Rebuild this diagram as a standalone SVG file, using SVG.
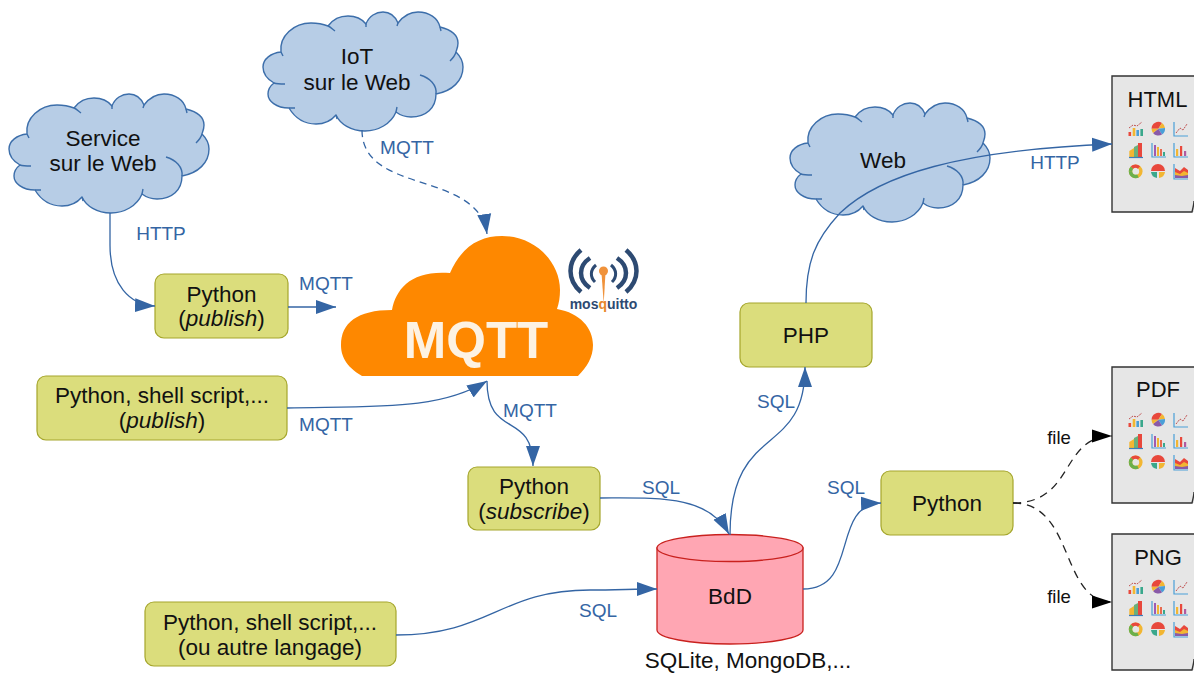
<svg xmlns="http://www.w3.org/2000/svg" width="1194" height="673" viewBox="0 0 1194 673">
<style>
text{font-family:"Liberation Sans",Arial,sans-serif;fill:#111;font-size:22.5px;text-anchor:middle}
.lb{fill:#3465a4;font-size:19px}
.blk{font-size:18.5px}
.doc{font-size:22px}
.box{fill:#dbdd7c;stroke:#a5a62c;stroke-width:1.2}
.cl{fill:#b7cde6;stroke:#3c6eaa;stroke-width:1.4;stroke-linejoin:round}
.tail{fill:none;stroke:#3c6eaa;stroke-width:1.4}
.c{fill:none;stroke:#3465a4;stroke-width:1.3}
.d{stroke-dasharray:7 5}
.k{fill:none;stroke:#222;stroke-width:1.3;stroke-dasharray:8 6}
.pe{fill:none;stroke:#333;stroke-width:1.4}
.ax{fill:none;stroke:#4a9fd8;stroke-width:1.2}
.mq{fill:none;stroke:#2d4a72;stroke-width:4.5}
</style>
<defs>
<marker id="a" markerUnits="userSpaceOnUse" markerWidth="21" markerHeight="15" refX="20" refY="7.5" orient="auto"><path d="M0 0.5L20 7.5L0 14.5Z" fill="#3465a4"/></marker>
<marker id="b" markerUnits="userSpaceOnUse" markerWidth="21" markerHeight="15" refX="20" refY="7.5" orient="auto"><path d="M0 1L20 7.5L0 14Z" fill="#000"/></marker>
<g id="cloud">
<path class="cl" d="M27 134C25 118 40 105 57 105C63 105 69 106 74 108C80 100 86 98 94 98C101 98 108 101 112 106C115 98 122 94 129 94C136 94 141 98 144 105C150 97 157 94 164 94C175 94 184 100 186 109C198 112 204 118 204 125C204 130 202 133 202 134C207 139 209 144 209 149C209 163 198 173 182 176C182 190 172 199 157 199C151 199 146 197 142 194C137 206 124 213 111 213C97 213 86 206 82 197C77 203 70 206 62 206C50 206 41 200 35 190C22 190 14 183 14 176C14 172 16 168 20 165C13 161 9 155 9 149C9 141 17 135 27 134Z"/>
<path class="tail" d="M74 108C77 109 78 111 81 113M112 106L112 109M144 105L143 108M186 109L187 113M202 134C201 138 199 140 196 143M166 157C176 160 183 167 182 176M142 194L143 189M82 197L83 201M35 190L41 190M20 165C23 166 27 166 31 166M27 134L29 138"/>
</g>
<g id="icons">
<rect x="16.5" y="56" width="2.6" height="4" fill="#e8483c"/><rect x="20.7" y="52" width="2.6" height="8" fill="#f2b632"/><rect x="24.4" y="54" width="2.6" height="6" fill="#4a9fd8"/><rect x="28.4" y="53" width="2.6" height="7" fill="#3aa88c"/>
<path d="M17 52L21 49L25 50L30 46" fill="none" stroke="#c05050" stroke-width="1" stroke-dasharray="2 1"/>
<path d="M46.3 52.7L39.6 52.7A6.7 6.7 0 0 1 50 47Z" fill="#e8483c"/><path d="M46.3 52.7L50 47A6.7 6.7 0 0 1 53 52Z" fill="#f2b632"/><path d="M46.3 52.7L53 52A6.7 6.7 0 0 1 50 58.4Z" fill="#4a9fd8"/><path d="M46.3 52.7L50 58.4A6.7 6.7 0 0 1 41 57Z" fill="#8a5aa8"/><path d="M46.3 52.7L41 57A6.7 6.7 0 0 1 39.6 52.7Z" fill="#f2b632"/>
<path class="ax" d="M62 46V60H76"/><path d="M64 57L68 52L71 54L75 48" fill="none" stroke="#c05050" stroke-width="1" stroke-dasharray="2 1"/>
<path d="M17.3 81V75L22 72V81Z" fill="#f2b632"/><path d="M22 81V71L26 69V81Z" fill="#6ab07c"/><path d="M26 81V67L30 67V81Z" fill="#e8483c"/><path d="M17 81.5H31" stroke="#3c7dbb" stroke-width="1.2"/>
<path class="ax" d="M40 67V81H54"/><rect x="42" y="69" width="2" height="11" fill="#a05ab0"/><rect x="45" y="71" width="2" height="9" fill="#f2b632"/><rect x="48" y="73" width="2" height="7" fill="#e86a50"/><rect x="51" y="76" width="2" height="4" fill="#3aa88c"/>
<path class="ax" d="M62 67V81H76"/><rect x="64" y="73" width="2.2" height="7" fill="#f2b632"/><rect x="68" y="70" width="2.2" height="10" fill="#e8483c"/><rect x="72" y="75" width="2.2" height="5" fill="#b05aa0"/>
<circle cx="23.7" cy="95.3" r="5.2" fill="none" stroke="#f2b632" stroke-width="3.4"/><path d="M18.5 95.3A5.2 5.2 0 0 0 26 100" fill="none" stroke="#6ab04c" stroke-width="3.4"/><path d="M18.5 95.3A5.2 5.2 0 0 1 20 91.6" fill="none" stroke="#6ab04c" stroke-width="3.4"/><path d="M20 91.6A5.2 5.2 0 0 1 27 91.5" fill="none" stroke="#e8483c" stroke-width="3.4"/>
<path d="M39 95A7 7 0 0 1 53 95H46Z" fill="#e8483c"/><path d="M39 96H45V102A7 7 0 0 1 39 96Z" fill="#3aa88c"/><path d="M47 96H53A7 7 0 0 1 47 102Z" fill="#f2b632"/>
<path class="ax" d="M62 88V103H76"/><path d="M63 92L68 95L72 91L76 94V102H63Z" fill="#e8483c"/><path d="M63 96L68 98L72 95L76 97V102H63Z" fill="#f2b632"/><path d="M63 99L70 100L76 99V102H63Z" fill="#8a5aa8"/>
</g>
<g id="page">
<rect width="84" height="136" fill="#e6e6e6"/>
<path class="pe" d="M84 0H0V136H80C81 132 82 128 82 125"/>
</g>
</defs>

<g id="cloud-service"><use href="#cloud"/><text x="103" y="146">Service</text><text x="103" y="171">sur le Web</text></g>
<g id="cloud-iot"><use href="#cloud" x="254" y="-82"/><text x="357" y="64">IoT</text><text x="357" y="90">sur le Web</text></g>
<g id="cloud-web"><use href="#cloud" x="781" y="9"/><text x="883" y="168">Web</text></g>

<g id="mqtt-broker">
<path fill="#fe8800" d="M362 376C345 366 341 355 341 345C341 323 357 310 392 310C396 288 412 270 450 273C462 246 480 236 502 236C535 236 560 262 560 290C560 297 559 303 557 309C580 313 593 328 593 345C593 357 587 367 578 376Z"/>
<text x="476" y="358" style="font-size:51px;font-weight:bold;fill:#fdf2e2">MQTT</text>
</g>
<g id="mosquitto">
<path class="mq" d="M581 250C567 262 567 280 581 292M626 250C640 262 640 280 626 292"/>
<path class="mq" d="M590 258C578 266 578 280 590 288M617 258C629 266 629 280 617 288"/>
<path class="mq" style="stroke-width:3" d="M596 265C590 270 590 277 595 282M611 265C617 270 617 277 612 282"/>
<circle cx="603.5" cy="271" r="4.5" fill="#f0923a"/><path d="M601.5 273L605.5 273L603.7 303Z" fill="#f0923a"/>
<text x="603.5" y="309" style="font-size:14px;font-weight:bold;fill:#2d4a72">mos<tspan style="fill:#e8862a">q</tspan>uitto</text>
</g>

<g id="py-publish"><rect class="box" x="155" y="274" width="133" height="64" rx="9"/><text x="221.5" y="302">Python</text><text x="221.5" y="326">(<tspan font-style="italic">publish</tspan>)</text></g>
<g id="shell-publish"><rect class="box" x="37" y="376" width="250" height="64" rx="9"/><text x="162" y="403">Python, shell script,...</text><text x="162" y="428">(<tspan font-style="italic">publish</tspan>)</text></g>
<g id="py-subscribe"><rect class="box" x="468" y="467" width="132" height="63" rx="9"/><text x="534" y="494">Python</text><text x="534" y="519">(<tspan font-style="italic">subscribe</tspan>)</text></g>
<g id="shell-other"><rect class="box" x="145" y="602" width="251" height="64" rx="9"/><text x="270" y="630">Python, shell script,...</text><text x="270" y="655">(ou autre langage)</text></g>
<g id="php"><rect class="box" x="740" y="303" width="132" height="64" rx="9"/><text x="806" y="343">PHP</text></g>
<g id="python"><rect class="box" x="881" y="471" width="132" height="64" rx="9"/><text x="947" y="511">Python</text></g>

<g id="bdd">
<path d="M657 548V630C657 638 690 644 730 644S803 638 803 630V548Z" fill="#ffa6b3" stroke="#c9211e" stroke-width="1.3"/>
<ellipse cx="730" cy="548" rx="73" ry="13.5" fill="#ffa6b3" stroke="#c9211e" stroke-width="1.3"/>
<text x="730" y="604">BdD</text>
<text x="748" y="668">SQLite, MongoDB,...</text>
</g>

<g id="doc-html"><use href="#page" x="1112" y="76"/><use href="#icons" x="1112" y="76"/><text class="doc" x="1157.5" y="107">HTML</text></g>
<g id="doc-pdf"><use href="#page" x="1112" y="367"/><use href="#icons" x="1112" y="367"/><text class="doc" x="1158" y="397">PDF</text></g>
<g id="doc-png"><use href="#page" x="1112" y="534"/><use href="#icons" x="1112" y="534"/><text class="doc" x="1158" y="565">PNG</text></g>

<g id="connectors">
<path class="c" marker-end="url(#a)" d="M110 213V245C110 285 130 305 155 306"/>
<path class="c" marker-end="url(#a)" d="M288 307H336"/>
<path class="c" marker-end="url(#a)" d="M287 408C380 406 440 410 487 381"/>
<path class="c d" marker-end="url(#a)" d="M362 130C362 195 478 170 487 234"/>
<path class="c" marker-end="url(#a)" d="M487 381C487 440 533 410 533 466"/>
<path class="c" marker-end="url(#a)" d="M600 498C660 498 708 495 729 534"/>
<path class="c" marker-end="url(#a)" d="M730 535C730 420 805 460 805 367"/>
<path class="c" marker-end="url(#a)" d="M396 635C490 635 500 590 590 590C615 590 635 589 657 589"/>
<path class="c" marker-end="url(#a)" d="M803 589C860 589 830 505 881 503"/>
<path class="c" marker-end="url(#a)" d="M806 303C806 262 815 240 840 213C880 175 960 150 1112 144"/>
<path class="k" marker-end="url(#b)" d="M1013 503C1075 503 1060 436 1112 436"/>
<path class="k" marker-end="url(#b)" d="M1013 503C1075 503 1060 602 1112 602"/>
</g>

<g id="labels">
<text class="lb" x="161" y="240">HTTP</text>
<text class="lb" x="326" y="290">MQTT</text>
<text class="lb" x="326" y="431">MQTT</text>
<text class="lb" x="407" y="154">MQTT</text>
<text class="lb" x="530" y="417">MQTT</text>
<text class="lb" x="661" y="494">SQL</text>
<text class="lb" x="776" y="408">SQL</text>
<text class="lb" x="598" y="617">SQL</text>
<text class="lb" x="846" y="494">SQL</text>
<text class="lb" x="1055" y="169">HTTP</text>
<text class="blk" x="1059" y="444">file</text>
<text class="blk" x="1059" y="603">file</text>
</g>
</svg>
